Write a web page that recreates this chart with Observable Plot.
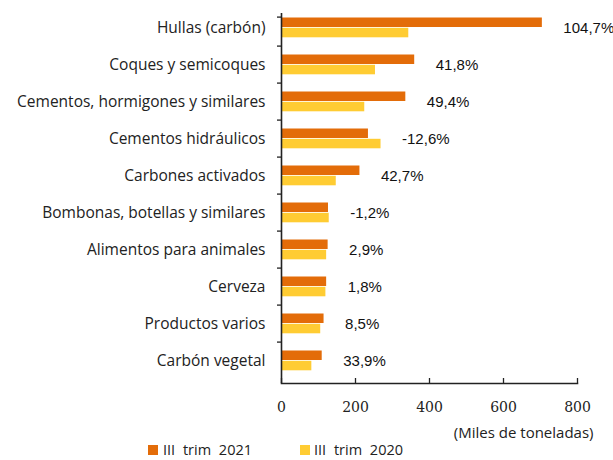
<!DOCTYPE html>
<html>
<head>
<meta charset="utf-8">
<script src="https://cdn.jsdelivr.net/npm/d3@7"></script>
<script src="https://cdn.jsdelivr.net/npm/@observablehq/plot@0.6"></script>
<style>
  html, body { margin: 0; padding: 0; background: #fff; }
  #wrap { position: relative; width: 613px; height: 460px; overflow: hidden; }
  #wrap svg { display: block; }
  .sw { position: absolute; top: 445px; width: 10px; height: 10px; }
  .lt { position: absolute; top: 440px; font-family: "Open Sans", sans-serif; font-size: 14.5px; line-height: normal; color: #222; white-space: pre; word-spacing: 4px; }
</style>
</head>
<body>
<div id="wrap"></div>
<script>
const categories = [
  "Hullas (carbón)",
  "Coques y semicoques",
  "Cementos, hormigones y similares",
  "Cementos hidráulicos",
  "Carbones activados",
  "Bombonas, botellas y similares",
  "Alimentos para animales",
  "Cerveza",
  "Productos varios",
  "Carbón vegetal"
];
const v2021 = [705, 360, 336, 235, 212, 127, 126, 122, 115, 110];
const v2020 = [344, 254, 225, 269, 148, 129, 122, 120, 106, 82];
const changes = [104.7, 41.8, 49.4, -12.6, 42.7, -1.2, 2.9, 1.8, 8.5, 33.9];
const xTicks = [0, 200, 400, 600, 800];
const seriesNames = ["III trim 2021", "III trim 2020"];
const colors = ["#E36C09", "#FFCC33"];
const unitLabel = "(Miles de toneladas)";

const rows21 = categories.map((c, i) => ({cat: c, value: v2021[i]}));
const rows20 = categories.map((c, i) => ({cat: c, value: v2020[i]}));
const labels = categories.map((c, i) => ({
  cat: c,
  x: Math.max(v2021[i], v2020[i]),
  text: (changes[i] < 0 ? "-" : "") + Math.abs(changes[i]).toFixed(1).replace(".", ",") + "%"
}));

const step = 37.8;
const chart = Plot.plot({
  width: 613,
  height: 446,
  marginTop: 5,
  marginBottom: 63,
  marginLeft: 281,
  marginRight: 36,
  style: {fontFamily: "Open Sans, sans-serif", color: "#222", background: "#fff"},
  x: {domain: [0, 800], ticks: xTicks},
  y: {domain: categories, padding: 0},
  marks: [
    Plot.barX(rows21, {x: "value", y: "cat", fill: colors[0], insetTop: 8.5, insetBottom: 19}),
    Plot.barX(rows20, {x: "value", y: "cat", fill: colors[1], insetTop: 18.8, insetBottom: 8.7}),
    Plot.ruleX([0], {insetTop: 8, stroke: "#222", strokeWidth: 1.6}),
    Plot.frame({anchor: "bottom", stroke: "#222", strokeWidth: 1.6}),
    Plot.ruleX(xTicks, {insetTop: 373, stroke: "#222", strokeWidth: 1.3}),
    Plot.axisX(xTicks, {tickSize: 0, tickPadding: 19, fontFamily: "DejaVu Serif", fontSize: 14, label: null, fill: "#222"}),
    Plot.axisY({tickSize: 0, tickPadding: 16, fontSize: 15.5, label: null, fill: "#222"}),
    Plot.axisY(categories.slice(1), {tickSize: 4, tickFormat: () => "", dy: -step / 2, label: null, stroke: "#222", strokeWidth: 1.3}),
    Plot.axisY([categories[0]], {tickSize: 4, tickFormat: () => "", dy: -10.9, label: null, stroke: "#222", strokeWidth: 1.3}),
    Plot.text(labels, {x: "x", y: "cat", text: "text", textAnchor: "start", dx: 21, fontFamily: "Liberation Sans, Arial, sans-serif", fontSize: 15, fill: "#111"}),
    Plot.text([unitLabel], {frameAnchor: "bottom-right", textAnchor: "end", dx: 16, dy: 54, fontSize: 15, fill: "#222"})
  ]
});
const wrap = document.getElementById("wrap");
wrap.appendChild(chart);

const legendPos = [[148, 163], [300, 314]];
seriesNames.forEach((name, i) => {
  const sw = document.createElement("div");
  sw.className = "sw";
  sw.style.left = legendPos[i][0] + "px";
  sw.style.background = colors[i];
  wrap.appendChild(sw);
  const t = document.createElement("div");
  t.className = "lt";
  t.style.left = legendPos[i][1] + "px";
  t.textContent = name;
  wrap.appendChild(t);
});
</script>
</body>
</html>
